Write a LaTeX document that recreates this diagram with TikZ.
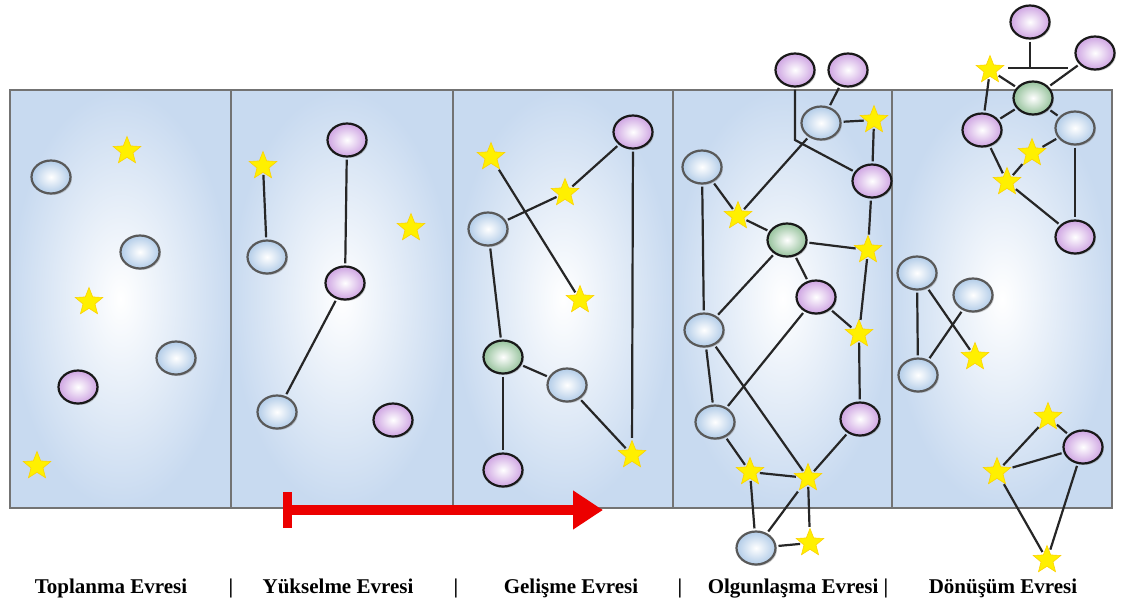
\documentclass[tikz,border=0pt]{standalone}
\usepackage{fontspec}
\setmainfont{Liberation Serif}
\usepackage{tikz}
\usetikzlibrary{arrows.meta, shapes.geometric, shadows}

\definecolor{panelblue}{RGB}{200,218,240}
\definecolor{cellblue}{RGB}{178,204,232}
\definecolor{cellpink}{RGB}{206,164,226}
\definecolor{cellgreen}{RGB}{150,194,156}
\definecolor{sparkyellow}{RGB}{255,240,0}
\definecolor{arrowred}{RGB}{236,0,0}

\begin{document}
\begin{tikzpicture}[
  x=1pt, y=-1pt,
  panel/.style={shading=radial, inner color=white, outer color=panelblue},
  frame/.style={draw=black!55, line width=1.3pt},
  dot/.style={ellipse, draw=black!80, line width=2.2pt, minimum width=39pt,
    minimum height=33pt, inner sep=0pt, shading=radial, inner color=white,
    drop shadow={shadow xshift=1.5pt, shadow yshift=-1.5pt, opacity=0.35}},
  bdot/.style={dot, outer color=cellblue, draw=black!65},
  pdot/.style={dot, outer color=cellpink, draw=black!90},
  gdot/.style={dot, outer color=cellgreen, draw=black!90},
  spark/.style={star, star points=5, star point ratio=2.3, minimum size=29pt,
    inner sep=0pt, fill=sparkyellow, draw=yellow!70!orange, line width=0.6pt},
  link/.style={draw=black!85, line width=2.2pt, shorten <=2pt, shorten >=2pt},
  phase/.style={font=\fontsize{21}{24}\selectfont\bfseries, anchor=base},
  growth/.style={arrowred, line width=10pt,
    {Bar[width=36pt, line width=9pt]}-{Triangle[width=37pt, length=30pt]}}
]
\useasboundingbox (0,0) rectangle (1122,613);

% panels
\foreach \xa/\xb in {10/231, 231/453, 453/673, 673/892, 892/1112}
  \fill[panel] (\xa,90) rectangle (\xb,508);
\draw[frame] (10,90) rectangle (1112,508);
\foreach \x in {231, 453, 673, 892}
  \draw[frame] (\x,90) -- (\x,508);

% Toplanma
\node[bdot] (a1) at (51,177) {};
\node[spark] (a2) at (127,151) {};
\node[bdot] (a3) at (140,252) {};
\node[spark] (a4) at (89,302) {};
\node[bdot] (a5) at (176,358) {};
\node[pdot] (a6) at (78,387) {};
\node[spark] (a7) at (37,466) {};

% Yukselme
\node[spark] (b1) at (263,166) {};
\node[pdot] (b2) at (347,140) {};
\node[spark] (b3) at (411,228) {};
\node[bdot] (b4) at (267,257) {};
\node[pdot] (b5) at (345,283) {};
\node[bdot] (b6) at (277,412) {};
\node[pdot] (b7) at (393,420) {};
\draw[link] (b1) -- (b4);
\draw[link] (b2) -- (b5);
\draw[link] (b5) -- (b6);

% Gelisme
\node[pdot] (c1) at (633,132) {};
\node[spark] (c2) at (491,157) {};
\node[spark] (c3) at (565,193) {};
\node[bdot] (c4) at (488,229) {};
\node[spark] (c5) at (580,300) {};
\node[gdot] (c6) at (503,357) {};
\node[bdot] (c7) at (567,385) {};
\node[pdot] (c8) at (503,470) {};
\node[spark] (c9) at (632,455) {};
\draw[link] (c4) -- (c3);
\draw[link] (c3) -- (c1);
\draw[link] (c2) -- (c5);
\draw[link] (c4) -- (c6);
\draw[link] (c6) -- (c7);
\draw[link] (c7) -- (c9);
\draw[link] (c1) -- (c9);
\draw[link] (c6) -- (c8);

% Olgunlasma
\node[pdot] (d1) at (795,70) {};
\node[pdot] (d2) at (848,70) {};
\node[bdot] (d3) at (821,123) {};
\node[spark] (d4) at (874,120) {};
\node[bdot] (d5) at (702,167) {};
\node[pdot] (d6) at (872,181) {};
\node[spark] (d7) at (738,216) {};
\node[gdot] (d8) at (787,240) {};
\node[spark] (d9) at (868,250) {};
\node[pdot] (d10) at (816,297) {};
\node[bdot] (d11) at (704,330) {};
\node[spark] (d12) at (859,334) {};
\node[bdot] (d13) at (715,422) {};
\node[pdot] (d14) at (860,419) {};
\node[spark] (d15) at (750,472) {};
\node[spark] (d16) at (808,478) {};
\node[bdot] (d17) at (756,548) {};
\node[spark] (d18) at (810,543) {};
\coordinate (dk) at (0,140);
\draw[link] (d1.south) -- (d1.south |- dk) -- (d6);
\draw[link] (d2) -- (d3);
\draw[link] (d3) -- (d4);
\draw[link] (d4) -- (d6);
\draw[link] (d3) -- (d7);
\draw[link] (d5) -- (d7);
\draw[link] (d7) -- (d8);
\draw[link] (d8) -- (d9);
\draw[link] (d6) -- (d9);
\draw[link] (d9) -- (d12);
\draw[link] (d8) -- (d11);
\draw[link] (d8) -- (d10);
\draw[link] (d10) -- (d12);
\draw[link] (d12) -- (d14);
\draw[link] (d5) -- (d11);
\draw[link] (d11) -- (d13);
\draw[link] (d13) -- (d10);
\draw[link] (d11) -- (d16);
\draw[link] (d13) -- (d15);
\draw[link] (d15) -- (d16);
\draw[link] (d14) -- (d16);
\draw[link] (d15) -- (d17);
\draw[link] (d16) -- (d17);
\draw[link] (d16) -- (d18);
\draw[link] (d17) -- (d18);

% Donusum
\node[pdot] (e1) at (1030,22) {};
\node[pdot] (e2) at (1095,53) {};
\node[spark] (e3) at (990,70) {};
\node[gdot] (e4) at (1033,98) {};
\node[pdot] (e5) at (982,130) {};
\node[bdot] (e6) at (1075,128) {};
\node[spark] (e7) at (1032,153) {};
\node[spark] (e8) at (1007,182) {};
\node[pdot] (e9) at (1075,237) {};
\node[bdot] (e10) at (917,273) {};
\node[bdot] (e11) at (973,295) {};
\node[spark] (e12) at (975,357) {};
\node[bdot] (e13) at (918,375) {};
\node[spark] (e14) at (1048,417) {};
\node[pdot] (e15) at (1083,447) {};
\node[spark] (e16) at (997,472) {};
\node[spark] (e17) at (1047,560) {};
\coordinate (eb) at (0,68);
\draw[link, shorten >=0pt] (e1) -- (e1 |- eb);
\draw[line width=2.2pt, black!85] (1008,68) -- (1068,68);
\draw[link] (e3) -- (e4);
\draw[link] (e2) -- (e4);
\draw[link] (e3) -- (e5);
\draw[link] (e5) -- (e4);
\draw[link] (e4) -- (e6);
\draw[link] (e6) -- (e7);
\draw[link] (e7) -- (e8);
\draw[link] (e5) -- (e8);
\draw[link] (e8) -- (e9);
\draw[link] (e6) -- (e9);
\draw[link] (e10) -- (e13);
\draw[link] (e10) -- (e12);
\draw[link] (e11) -- (e13);
\draw[link] (e14) -- (e15);
\draw[link] (e14) -- (e16);
\draw[link] (e16) -- (e15);
\draw[link] (e16) -- (e17);
\draw[link] (e15) -- (e17);

% arrow of growth
\coordinate (gs) at (283,510);
\coordinate (ge) at (603,510);
\draw[growth] (gs) -- (ge);

% phase names
\node[phase] (n1) at (111,593) {Toplanma Evresi};
\node[phase] (s1) at (231,593) {|};
\node[phase] (n2) at (338,593) {Yükselme Evresi};
\node[phase] (s2) at (456,593) {|};
\node[phase] (n3) at (571,593) {Gelişme Evresi};
\node[phase] (s3) at (680,593) {|};
\node[phase] (n4) at (798,593) {Olgunlaşma Evresi |};
\node[phase] (n5) at (1003,593) {Dönüşüm Evresi};
\end{tikzpicture}
\end{document}
